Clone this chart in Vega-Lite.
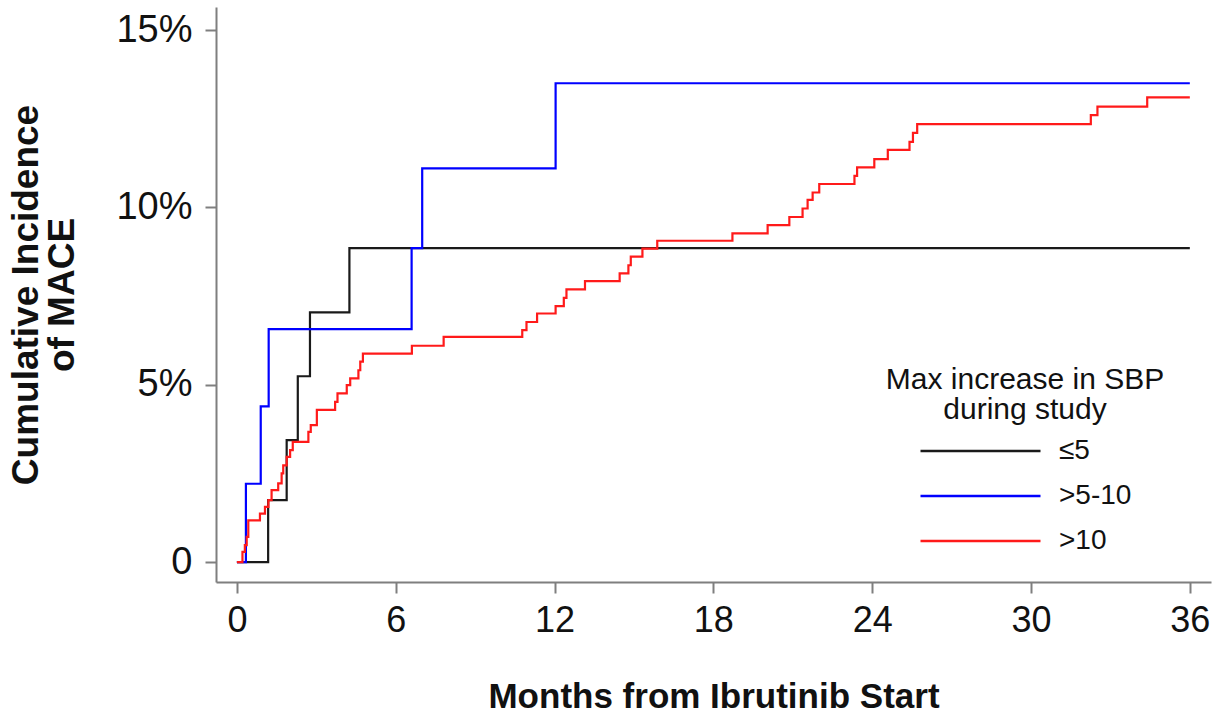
{
  "$schema": "https://vega.github.io/schema/vega-lite/v6.json",
  "autosize": {"type": "none"},
  "width": 995,
  "height": 575,
  "padding": {"left": 216, "top": 7, "right": 17, "bottom": 137},
  "background": "white",
  "config": {
    "view": {"stroke": null},
    "font": "Liberation Sans, Arial, sans-serif",
    "axis": {"grid": false, "domainColor": "#7f7f7f", "domainWidth": 2, "tickColor": "#7f7f7f", "tickWidth": 2, "tickSize": 11, "labelColor": "#111111", "titleColor": "#111111", "labelFont": "Liberation Sans, Arial, sans-serif", "titleFont": "Liberation Sans, Arial, sans-serif"}
  },
  "data": {
    "values": [
      {"group": "≤5", "month": 0, "pct": 0},
      {"group": "≤5", "month": 1.18, "pct": 1.75},
      {"group": "≤5", "month": 1.88, "pct": 3.44},
      {"group": "≤5", "month": 2.3, "pct": 5.24},
      {"group": "≤5", "month": 2.76, "pct": 7.04},
      {"group": "≤5", "month": 4.25, "pct": 8.85},
      {"group": "≤5", "month": 36, "pct": 8.85},
      {"group": ">5-10", "month": 0, "pct": 0},
      {"group": ">5-10", "month": 0.34, "pct": 2.21},
      {"group": ">5-10", "month": 0.9, "pct": 4.39},
      {"group": ">5-10", "month": 1.2, "pct": 6.57},
      {"group": ">5-10", "month": 6.6, "pct": 8.85},
      {"group": ">5-10", "month": 7.0, "pct": 11.1},
      {"group": ">5-10", "month": 12.04, "pct": 13.5},
      {"group": ">5-10", "month": 36, "pct": 13.5},
      {"group": ">10", "month": 0, "pct": 0},
      {"group": ">10", "month": 0.21, "pct": 0.29},
      {"group": ">10", "month": 0.3, "pct": 0.48},
      {"group": ">10", "month": 0.37, "pct": 0.71},
      {"group": ">10", "month": 0.43, "pct": 1.18},
      {"group": ">10", "month": 0.87, "pct": 1.37},
      {"group": ">10", "month": 1.06, "pct": 1.56},
      {"group": ">10", "month": 1.19, "pct": 1.75},
      {"group": ">10", "month": 1.31, "pct": 2.03},
      {"group": ">10", "month": 1.56, "pct": 2.22},
      {"group": ">10", "month": 1.69, "pct": 2.5},
      {"group": ">10", "month": 1.75, "pct": 2.73},
      {"group": ">10", "month": 1.88, "pct": 2.97},
      {"group": ">10", "month": 2.01, "pct": 3.16},
      {"group": ">10", "month": 2.11, "pct": 3.39},
      {"group": ">10", "month": 2.7, "pct": 3.67},
      {"group": ">10", "month": 2.79, "pct": 3.86},
      {"group": ">10", "month": 3.02, "pct": 4.29},
      {"group": ">10", "month": 3.71, "pct": 4.52},
      {"group": ">10", "month": 3.8, "pct": 4.76},
      {"group": ">10", "month": 4.15, "pct": 4.99},
      {"group": ">10", "month": 4.28, "pct": 5.18},
      {"group": ">10", "month": 4.59, "pct": 5.41},
      {"group": ">10", "month": 4.66, "pct": 5.65},
      {"group": ">10", "month": 4.76, "pct": 5.88},
      {"group": ">10", "month": 6.61, "pct": 6.1},
      {"group": ">10", "month": 7.81, "pct": 6.35},
      {"group": ">10", "month": 10.78, "pct": 6.54},
      {"group": ">10", "month": 10.94, "pct": 6.77},
      {"group": ">10", "month": 11.34, "pct": 7.01},
      {"group": ">10", "month": 12.04, "pct": 7.22},
      {"group": ">10", "month": 12.35, "pct": 7.45},
      {"group": ">10", "month": 12.45, "pct": 7.69},
      {"group": ">10", "month": 13.15, "pct": 7.92},
      {"group": ">10", "month": 14.46, "pct": 8.14},
      {"group": ">10", "month": 14.79, "pct": 8.37},
      {"group": ">10", "month": 14.88, "pct": 8.61},
      {"group": ">10", "month": 15.32, "pct": 8.84},
      {"group": ">10", "month": 15.88, "pct": 9.06},
      {"group": ">10", "month": 18.72, "pct": 9.27},
      {"group": ">10", "month": 20.05, "pct": 9.5},
      {"group": ">10", "month": 20.87, "pct": 9.73},
      {"group": ">10", "month": 21.37, "pct": 9.97},
      {"group": ">10", "month": 21.56, "pct": 10.21},
      {"group": ">10", "month": 21.75, "pct": 10.42},
      {"group": ">10", "month": 22.0, "pct": 10.66},
      {"group": ">10", "month": 23.33, "pct": 10.89},
      {"group": ">10", "month": 23.43, "pct": 11.13},
      {"group": ">10", "month": 24.08, "pct": 11.36},
      {"group": ">10", "month": 24.59, "pct": 11.62},
      {"group": ">10", "month": 25.41, "pct": 11.85},
      {"group": ">10", "month": 25.54, "pct": 12.1},
      {"group": ">10", "month": 25.7, "pct": 12.35},
      {"group": ">10", "month": 32.26, "pct": 12.6},
      {"group": ">10", "month": 32.51, "pct": 12.84},
      {"group": ">10", "month": 34.39, "pct": 13.1},
      {"group": ">10", "month": 36, "pct": 13.1}
    ]
  },
  "mark": {"type": "line", "interpolate": "step-after", "strokeWidth": 2.2},
  "encoding": {
    "x": {
      "field": "month", "type": "quantitative",
      "scale": {"domain": [-0.79, 36.8], "nice": false, "zero": false},
      "axis": {"values": [0, 6, 12, 18, 24, 30, 36], "labelFontSize": 36, "labelPadding": 10, "title": "Months from Ibrutinib Start", "titleFontSize": 35, "titleFontWeight": "bold", "titlePadding": 41}
    },
    "y": {
      "field": "pct", "type": "quantitative",
      "scale": {"domain": [-0.56, 15.65], "nice": false, "zero": false},
      "axis": {"values": [0, 5, 10, 15], "labelExpr": "datum.value === 0 ? '0' : datum.value + '%'", "labelFontSize": 38, "labelPadding": 13, "title": ["Cumulative Incidence", "of MACE"], "titleFontSize": 37, "titleFontWeight": "bold", "titleLineHeight": 36, "titlePadding": 34}
    },
    "color": {
      "field": "group", "type": "nominal",
      "scale": {"domain": ["≤5", ">5-10", ">10"], "range": ["#1a1a1a", "#0000ff", "#ff1a1a"]},
      "legend": {
        "orient": "none", "legendX": 670, "legendY": 358,
        "title": ["Max increase in SBP", "during study"],
        "titleFontSize": 30, "titleFontWeight": "normal", "titleColor": "#111111", "titleAlign": "center", "titleAnchor": "middle", "titleLineHeight": 30, "titlePadding": 12, "titleLimit": 500,
        "symbolType": "stroke", "symbolSize": 14400, "symbolStrokeWidth": 2.5, "symbolOffset": 0,
        "clipHeight": 28, "rowPadding": 17,
        "labelFontSize": 28, "labelColor": "#111111", "labelOffset": 17, "labelLimit": 300,
        "padding": 0
      }
    }
  }
}
